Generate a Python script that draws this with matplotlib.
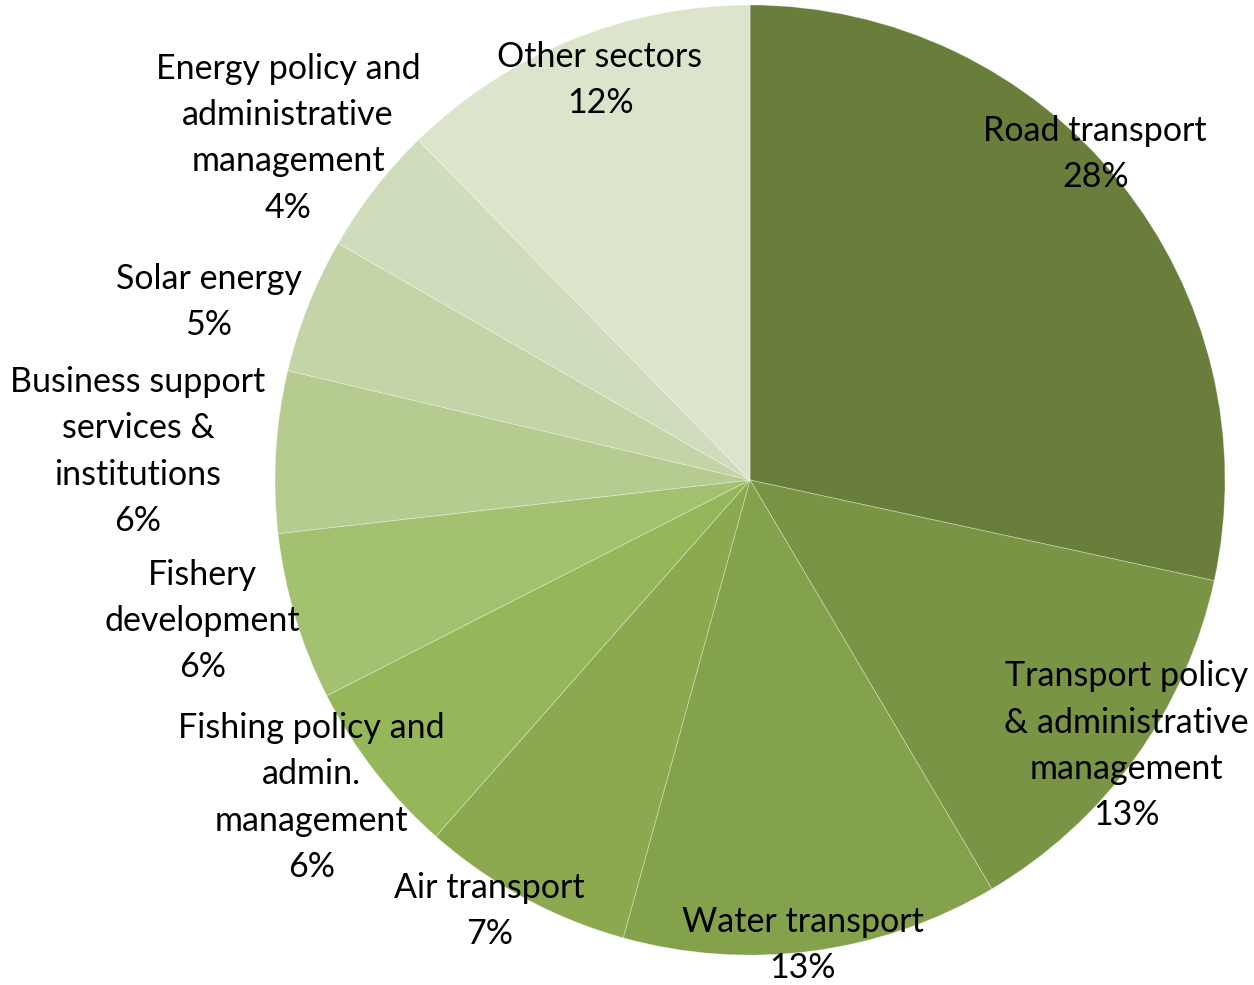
import numpy as np
import matplotlib.pyplot as plt

sectors = ['Road transport', 'Transport policy\n& administrative\nmanagement',
           'Water transport', 'Air transport', 'Fishing policy and\nadmin.\nmanagement',
           'Fishery\ndevelopment', 'Business support\nservices &\ninstitutions',
           'Solar energy', 'Energy policy and\nadministrative\nmanagement', 'Other sectors']
shares = [28.4, 13.1, 12.8, 7.2, 6.0, 5.7, 5.5, 4.6, 4.4, 12.3]
colors = ['#6a7e3c', '#7a9445', '#84a14b', '#8ca94f', '#96b65a',
          '#a3c170', '#b5cb90', '#c3d4a6', '#d0ddbc', '#dce5cc']
# label placement: radius fraction and angular shift (deg) from wedge middle
label_r = [1.0, 0.97, 0.985, 1.06, 1.14, 1.19, 1.29, 1.2, 1.21, 0.9]
label_shift = [4.5, 0.6, -1.1, -2.7, -1.9, -2.3, 0.75, 3.4, 1.3, -1.6]

plt.rcParams['font.family'] = ['Lato', 'DejaVu Sans']

fig = plt.figure(figsize=(12.54, 9.85), dpi=100)
ax = fig.add_axes([0, 0, 1, 1])
wedges, _ = ax.pie(shares, colors=colors, startangle=90, counterclock=False,
                   wedgeprops=dict(linewidth=0.6, edgecolor=(1, 1, 1, 0.35)))

for w, name, v, r, d in zip(wedges, sectors, shares, label_r, label_shift):
    ang = np.deg2rad((w.theta1 + w.theta2) / 2 + d)
    ax.text(r*np.cos(ang), r*np.sin(ang), "%s\n%.0f%%" % (name, v),
            ha='center', va='center', fontsize=24.5, linespacing=1.55)

ax.set_xlim(-1.579, 1.061)
ax.set_ylim(-1.063, 1.0105)
ax.set_aspect('auto')
ax.axis('off')
fig.savefig('out.png', dpi=100)
